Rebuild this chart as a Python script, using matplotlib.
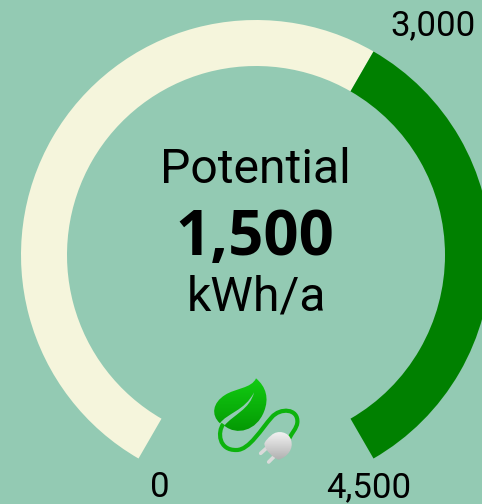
import numpy as np
import matplotlib
matplotlib.use("Agg")
import matplotlib.pyplot as plt
from matplotlib.path import Path
from matplotlib.patches import PathPatch
from matplotlib.colors import LinearSegmentedColormap

# gauge data
segment_values = [2700, 1800]
segment_colors = ["#F5F5DC", "#008000"]
hidden_gap = 900
title = "Potential"
value_label = "1,500"
unit = "kWh/a"
scale_labels = ["0", "3,000", "4,500"]

bg = "#93CAB3"
W, H = 482, 504

plt.rcParams["font.family"] = ["Roboto", "DejaVu Sans"]

fig = plt.figure(figsize=(W / 100, H / 100), dpi=100, facecolor=bg)
ax = fig.add_axes([0, 0, 1, 1])

# the hidden slice leaves the gap at the bottom of the ring
ax.pie(segment_values + [hidden_gap],
       colors=segment_colors + ["none"],
       startangle=240, counterclock=False,
       center=(256, H - 255), radius=235,
       wedgeprops=dict(width=46, linewidth=0))
ax.set_xlim(0, W)
ax.set_ylim(0, H)
ax.set_aspect("equal")
ax.axis("off")

# centre text
ax.text(255, H - 183, title, fontsize=34.7, ha="center", va="baseline", color="black")
ax.text(254.5, H - 255, value_label, fontsize=44.5, family=["Open Sans", "DejaVu Sans"],
        fontweight="bold", ha="center", va="baseline", color="black")
ax.text(256, H - 310, unit, fontsize=34.7, ha="center", va="baseline", color="black")

# scale labels
ax.text(160, H - 497, scale_labels[0], fontsize=25, ha="center", va="baseline")
ax.text(433, H - 35, scale_labels[1], fontsize=25, ha="center", va="baseline")
ax.text(369, H - 497, scale_labels[2], fontsize=25, ha="center", va="baseline")


# icon, sketched in the coordinates of a 3x crop at (190, 360)
def icon_xy(pts):
    pts = np.array(pts, dtype=float)
    return np.column_stack([190 + pts[:, 0] / 3, H - (360 + pts[:, 1] / 3)])


def curve(pts):
    codes = [Path.MOVETO] + [Path.CURVE4] * (len(pts) - 1)
    return Path(icon_xy(pts), codes)


def gradient_fill(path, c_top, c_bottom, zorder):
    box = path.get_extents()
    cmap = LinearSegmentedColormap.from_list("g", [c_top, c_bottom])
    im = ax.imshow(np.linspace(0, 1, 64).reshape(-1, 1), cmap=cmap, aspect="auto",
                   extent=[box.x0, box.x1, box.y0, box.y1], origin="upper", zorder=zorder)
    im.set_clip_path(PathPatch(path, transform=ax.transData))


cord = curve([(100, 192), (82, 215), (85, 272), (140, 270),
              (178, 270), (215, 205), (245, 172),
              (270, 142), (326, 145), (322, 188),
              (320, 205), (305, 220), (298, 235)])
ax.add_patch(PathPatch(cord, fc="none", ec="#0DB30D", lw=3.0, zorder=3))

leaf = curve([(198, 55), (185, 85), (135, 85), (105, 105),
              (68, 128), (62, 165), (90, 190),
              (110, 160), (165, 152), (192, 97),
              (180, 148), (130, 164), (103, 197),
              (140, 228), (200, 212), (222, 155),
              (238, 115), (228, 80), (198, 55)])
gradient_fill(leaf, "#12CC12", "#049A04", 4)

# plug prongs then body
for p in [[(232, 262), (212, 280)], [(256, 286), (236, 306)]]:
    xy = icon_xy(p)
    ax.plot(xy[:, 0], xy[:, 1], color="#DADADA", lw=2.6, solid_capstyle="round", zorder=4)
plug = curve([(244, 226), (262, 208), (298, 216), (303, 240),
              (312, 266), (292, 292), (265, 299),
              (248, 292), (226, 272), (223, 252),
              (224, 244), (234, 234), (244, 226)])
gradient_fill(plug, "#F2F2F2", "#B0B0B0", 5)

ax.set_xlim(0, W)
ax.set_ylim(0, H)

fig.savefig("out.png", dpi=100, facecolor=bg)
plt.close(fig)
